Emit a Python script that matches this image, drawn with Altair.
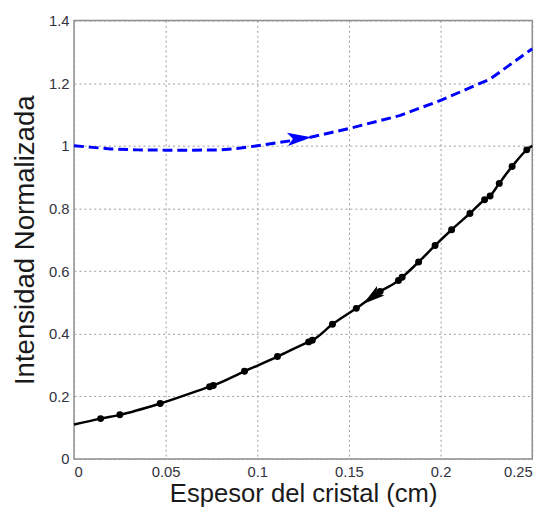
import altair as alt
import pandas as pd

# Blue dashed curve
blue_x = [0.0, 0.01, 0.02, 0.035, 0.05, 0.065, 0.08, 0.09, 0.10, 0.125, 0.15, 0.178, 0.20, 0.227, 0.25]
blue_y = [1.0, 0.995, 0.99, 0.987, 0.986, 0.986, 0.987, 0.992, 1.0, 1.022, 1.055, 1.097, 1.145, 1.213, 1.31]

# Black measured points
black_x = [0.0145, 0.025, 0.047, 0.074, 0.076, 0.093, 0.111, 0.128, 0.130, 0.141,
           0.154, 0.167, 0.177, 0.179, 0.188, 0.197, 0.206, 0.216, 0.224, 0.227,
           0.232, 0.239, 0.247]
black_y = [0.129, 0.141, 0.177, 0.231, 0.235, 0.280, 0.327, 0.374, 0.379, 0.430,
           0.481, 0.535, 0.570, 0.580, 0.629, 0.682, 0.732, 0.784, 0.828, 0.840,
           0.880, 0.934, 0.987]

# Black line end points
black_start = (0.0, 0.11)
black_end = (0.25, 1.0)

# Arrow markers
arrow_x = [0.123, 0.1625]
arrow_y = [1.024, 0.516]
arrow_color = ["#0000ff", "#000000"]
arrow_angle = [355, 143]
arrow_size = [600, 500]

x_ticks = [0, 0.05, 0.1, 0.15, 0.2, 0.25]
y_ticks = [0, 0.2, 0.4, 0.6, 0.8, 1.0, 1.2, 1.4]

blue_df = pd.DataFrame({"x": blue_x, "y": blue_y})
black_pts = pd.DataFrame({"x": black_x, "y": black_y})
black_line = pd.DataFrame({
    "x": [black_start[0]] + black_x + [black_end[0]],
    "y": [black_start[1]] + black_y + [black_end[1]],
})
arrow_df = pd.DataFrame({"x": arrow_x, "y": arrow_y, "c": arrow_color,
                         "a": arrow_angle, "s": arrow_size})

xs = alt.Scale(domain=[0, 0.25], nice=False, zero=False)
ys = alt.Scale(domain=[0, 1.4], nice=False, zero=False)

xaxis = alt.Axis(values=x_ticks, format=".2~f", title="Espesor del cristal (cm)",
                 grid=True, gridDash=[2, 3], gridColor="#999999", gridWidth=1,
                 ticks=False, domain=False, labelFontSize=15, labelColor="#33333d",
                 labelFont="Liberation Sans", labelPadding=6,
                 titleFont="Liberation Sans", titleFontSize=26, titleFontWeight="normal",
                 titleColor="#1a1a1a", titlePadding=1)
yaxis = alt.Axis(values=y_ticks, format=".1~f", title="Intensidad Normalizada",
                 grid=True, gridDash=[2, 3], gridColor="#999999", gridWidth=1,
                 ticks=False, domain=False, labelFontSize=15, labelColor="#33333d",
                 labelFont="Liberation Sans", labelPadding=5,
                 titleFont="Liberation Sans", titleFontSize=28, titleFontWeight="normal",
                 titleColor="#1a1a1a", titlePadding=9)

blue = alt.Chart(blue_df).mark_line(color="#0000ff", strokeWidth=3, strokeDash=[10, 5],
                                    interpolate="linear").encode(
    x=alt.X("x:Q", scale=xs, axis=xaxis),
    y=alt.Y("y:Q", scale=ys, axis=yaxis),
)

bline = alt.Chart(black_line).mark_line(color="#000000", strokeWidth=2.5,
                                        interpolate="monotone").encode(
    x=alt.X("x:Q", scale=xs), y=alt.Y("y:Q", scale=ys))

bpts = alt.Chart(black_pts).mark_point(filled=True, color="#000000", size=50,
                                       opacity=1, shape="circle").encode(
    x=alt.X("x:Q", scale=xs), y=alt.Y("y:Q", scale=ys))

arrows = alt.Chart(arrow_df).mark_point(
    shape="M1,0 L-1,-0.55 L-0.55,0 L-1,0.55 Z", filled=True, opacity=1).encode(
    x=alt.X("x:Q", scale=xs), y=alt.Y("y:Q", scale=ys),
    color=alt.Color("c:N", scale=None),
    angle=alt.Angle("a:Q", scale=None),
    size=alt.Size("s:Q", scale=None),
)

chart = alt.layer(blue, bline, bpts, arrows).properties(
    width=465, height=445,
    autosize=alt.AutoSizeParams(type="none"),
    padding={"left": 67, "top": 9, "right": 18, "bottom": 45},
    background="white",
).configure_view(stroke="#8c8c8c", strokeWidth=1.5)

chart.save("out.html", embed_options={"renderer": "svg", "actions": False})
